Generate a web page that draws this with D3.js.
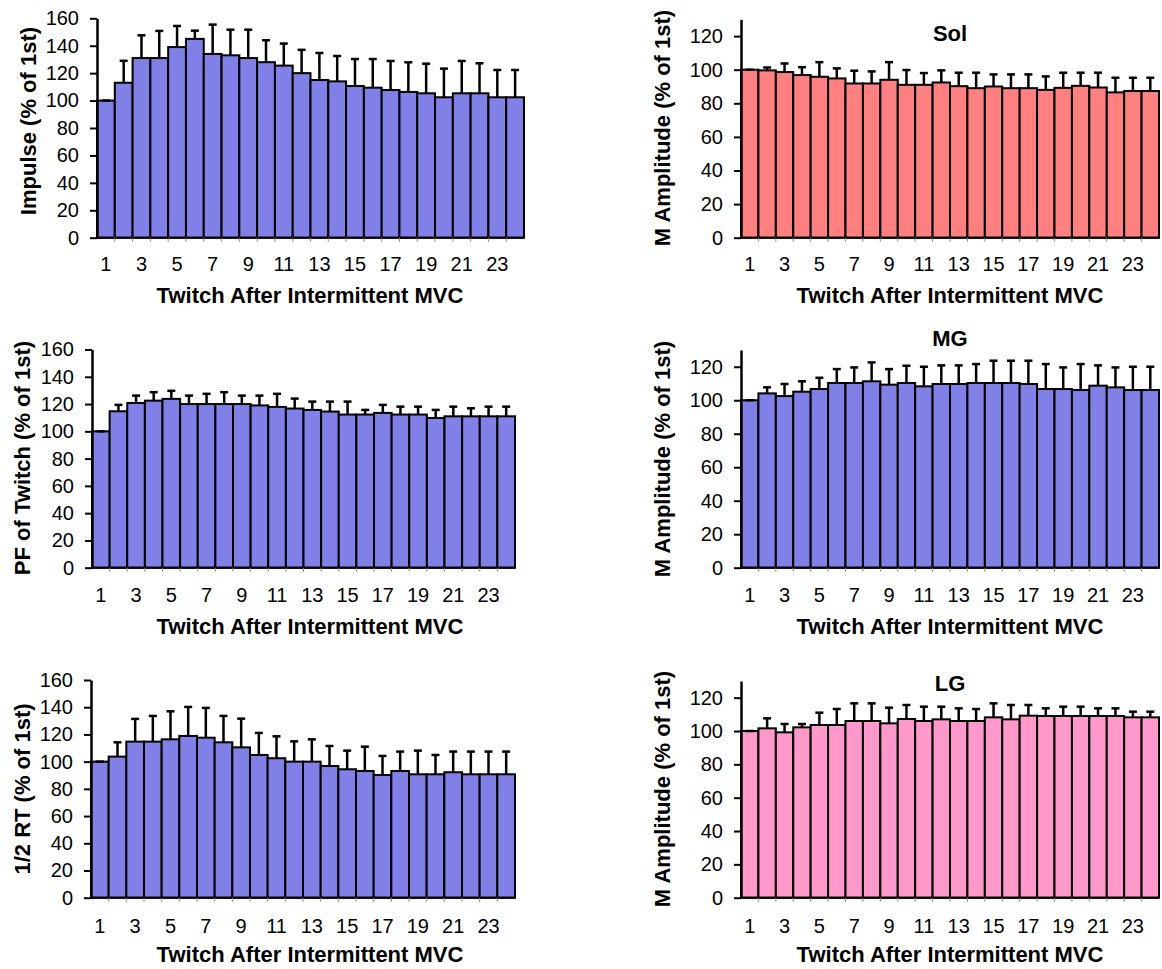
<!DOCTYPE html>
<html><head><meta charset="utf-8">
<script src="https://cdn.jsdelivr.net/npm/d3@7/dist/d3.min.js"></script>
<style>body{margin:0;background:#fff}svg{display:block}text{font-family:"Liberation Sans",Arial,sans-serif;fill:#000}</style>
</head><body>
<svg id="c" width="1162" height="969"></svg>
<script>
const twitches = d3.range(1, 25);
const xTickLabels = [1,3,5,7,9,11,13,15,17,19,21,23];
const xTitle = "Twitch After Intermittent MVC";

const impulseMean = [100,113,131,131,139,145,134,133,131,128,125.5,120,115,114,110.6,109.4,107.7,106.3,105.3,102.4,105.3,105.3,102.4,102.4];
const impulseSD   = [0,16,16.6,19.8,15.4,6,21.4,18.7,20.7,16,16.1,17,19.7,18.5,19.7,20.9,21.2,21.6,21.6,20.9,23.6,21.9,19.9,19.9];
const pfMean = [100,114.7,120.8,122.5,123.8,120,120,120,120,119,117.9,116.7,115.7,114.5,112.3,112.3,113.5,112.3,112.3,109.8,111,111,111,111];
const pfSD   = [0,4.7,5.4,6.2,5.9,6.2,7.5,8.7,6.2,7.2,9.6,7.3,6.1,7.3,9.5,3.4,5.9,5.8,5.8,5.9,7.1,5.9,7.1,7.1];
const rtMean = [100,103.7,114.7,114.7,116.4,118.9,117.6,114.2,110.5,104.9,102.5,100,100,96.8,94.4,93.1,90.2,93.1,90.7,90.7,92.2,90.7,90.7,90.7];
const rtSD   = [0,10.5,16.7,18.9,20.6,21.3,21.9,19.4,21.1,16.2,16.1,14.9,16.4,14.7,13.7,17.9,14,14.3,17.4,14.2,15.2,16.7,16.7,16.7];
const solMean = [100,99.6,98.6,96.8,95.8,94.8,91.8,91.8,94,91,91,92.4,90.2,89,90,89,89,88,89.2,90.4,89.4,86.5,87.3,87.3];
const solSD   = [0,1.7,5.1,4.7,8.7,6,7.6,7.2,10.5,8.8,7,7.2,8,9.2,7.2,8.2,8.2,8,9,7.8,8.8,8.7,7.9,7.9];
const mgMean = [100,104.1,102.5,105.1,106.7,110.3,110.3,111.3,109.3,110.3,108.3,109.7,109.7,110.3,110.3,110.3,109.7,106.7,106.7,106.1,108.7,107.7,106.1,106.1];
const mgSD   = [0,3.6,7.2,6.2,6.7,8.3,9.3,11.3,9.3,10.3,11.7,11.1,11.1,11.3,13.3,13.3,13.9,14.9,12.9,15.5,12.1,11.9,13.9,13.9];
const lgMean = [100,101.6,99.2,102.2,103.6,103.6,106,106,104.6,107.2,106,107,106,106,108.2,107,109.2,109,109,109,109,109,108.2,108.2];
const lgSD   = [0,6,5,2,7.4,9.6,10.6,10.6,9.4,8.4,8.6,7.6,7.6,7.2,8.4,8.6,6.4,4.6,5.6,5.6,4.6,4.6,3.4,3.4];

const ticks160 = [0,20,40,60,80,100,120,140,160];
const ticks120 = [0,20,40,60,80,100,120];

const panels = [
  {mean:impulseMean, sd:impulseSD, ylab:"Impulse (% of 1st)", max:160, ticks:ticks160, color:"#8080E6",
   l:97, r:524, t:18.3, b:237.7, ylx:28, ylc:121, xly:264, xty:295, xtc:310},
  {mean:solMean, sd:solSD, ylab:"M Amplitude (% of 1st)", title:"Sol", max:130, ticks:ticks120, color:"#FF8080",
   l:741, r:1159, t:19.3, b:237.7, ylx:662, ylc:128, xly:264, xty:295, xtc:950, ty:33},
  {mean:pfMean, sd:pfSD, ylab:"PF of Twitch (% of 1st)", max:160, ticks:ticks160, color:"#8080E6",
   l:92, r:515, t:349.5, b:567.7, ylx:22, ylc:458, xly:595, xty:626, xtc:310},
  {mean:mgMean, sd:mgSD, ylab:"M Amplitude (% of 1st)", title:"MG", max:130, ticks:ticks120, color:"#8080E6",
   l:741, r:1159, t:350, b:567.7, ylx:662, ylc:459, xly:595, xty:626, xtc:950, ty:338},
  {mean:rtMean, sd:rtSD, ylab:"1/2 RT (% of 1st)", max:160, ticks:ticks160, color:"#8080E6",
   l:91, r:515, t:680, b:897.7, ylx:22, ylc:789, xly:926, xty:954, xtc:310},
  {mean:lgMean, sd:lgSD, ylab:"M Amplitude (% of 1st)", title:"LG", max:130, ticks:ticks120, color:"#FF99CC",
   l:741, r:1159, t:681, b:897.7, ylx:662, ylc:789, xly:926, xty:954, xtc:950, ty:683}
];

const svg = d3.select("#c");
const TICK_FS = 20, TITLE_FS = 22;

panels.forEach(p => {
  const g = svg.append("g");
  const x = d3.scaleBand().domain(twitches).range([p.l, p.r]).padding(0);
  const y = d3.scaleLinear().domain([0, p.max]).range([p.b, p.t]);
  const data = twitches.map((c, i) => ({c, m:p.mean[i], s:p.sd[i]}));

  g.selectAll("rect.bar").data(data).join("rect")
    .attr("x", d => x(d.c)).attr("width", x.bandwidth())
    .attr("y", d => y(d.m)).attr("height", d => y(0) - y(d.m))
    .attr("fill", p.color).attr("stroke", "#000").attr("stroke-width", 2);

  const cap = 4;
  g.selectAll("line.err").data(data).join("line")
    .attr("x1", d => x(d.c) + x.bandwidth()/2).attr("x2", d => x(d.c) + x.bandwidth()/2)
    .attr("y1", d => y(d.m)).attr("y2", d => y(d.m + d.s))
    .attr("stroke", "#000").attr("stroke-width", 2.5);
  g.selectAll("line.cap").data(data).join("line")
    .attr("x1", d => x(d.c) + x.bandwidth()/2 - cap).attr("x2", d => x(d.c) + x.bandwidth()/2 + cap)
    .attr("y1", d => y(d.m + d.s)).attr("y2", d => y(d.m + d.s))
    .attr("stroke", "#000").attr("stroke-width", 2.5);

  const xa = d3.axisBottom(x).tickValues(xTickLabels).tickSize(0).tickPadding(0);
  const xg = g.append("g").attr("transform", `translate(0,${p.b})`).call(xa);
  xg.select(".domain").remove();
  xg.selectAll("text").attr("y", p.xly - p.b).attr("dy", "0.35em")
    .style("font-size", TICK_FS + "px").style("font-family", '"Liberation Sans",Arial,sans-serif');
  g.append("line").attr("x1", p.l).attr("x2", p.r).attr("y1", p.b).attr("y2", p.b)
    .attr("stroke", "#000").attr("stroke-width", 2);
  g.selectAll("line.sep").data(twitches.slice(1)).join("line")
    .attr("x1", d => x(d)).attr("x2", d => x(d)).attr("y1", p.b).attr("y2", p.b + 4)
    .attr("stroke", "#888").attr("stroke-width", 1);

  const ya = d3.axisLeft(y).tickValues(p.ticks).tickSize(7).tickPadding(11).tickSizeOuter(0);
  const yg = g.append("g").attr("transform", `translate(${p.l},0)`).call(ya);
  yg.select(".domain").attr("stroke-width", 2.5);
  yg.selectAll(".tick line").attr("stroke-width", 2);
  yg.selectAll("text").style("font-size", TICK_FS + "px").style("font-family", '"Liberation Sans",Arial,sans-serif');

  g.append("text").attr("x", p.xtc).attr("y", p.xty).attr("dy", "0.35em")
    .attr("text-anchor", "middle").style("font-size", TITLE_FS + "px").style("font-weight", "bold")
    .text(xTitle);
  g.append("text").attr("transform", `translate(${p.ylx},${p.ylc}) rotate(-90)`)
    .attr("dy", "0.35em").attr("text-anchor", "middle")
    .style("font-size", TITLE_FS + "px").style("font-weight", "bold").text(p.ylab);
  if (p.title) {
    g.append("text").attr("x", 950).attr("y", p.ty).attr("dy", "0.35em")
      .attr("text-anchor", "middle").style("font-size", TITLE_FS + "px").style("font-weight", "bold")
      .text(p.title);
  }
});
</script>
</body></html>
